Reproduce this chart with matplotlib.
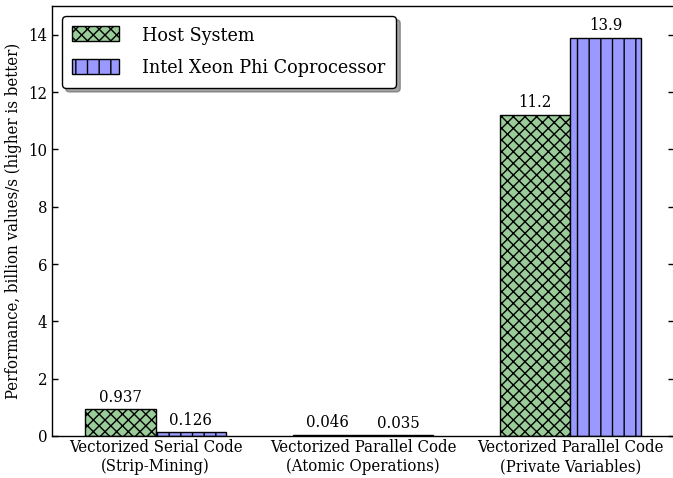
import numpy as np
import matplotlib
matplotlib.use('Agg')
import matplotlib.pyplot as plt

# render at a higher dpi so the hatch spacing matches; scale sizes back down
DPI = 140
k = 100.0 / DPI

plt.rcParams['font.family'] = 'DejaVu Serif'
plt.rcParams['font.stretch'] = 'condensed'
plt.rcParams['hatch.linewidth'] = 1.0 * k
plt.rcParams['axes.linewidth'] = 1.0 * k
plt.rcParams['patch.linewidth'] = 1.0 * k
plt.rcParams['ytick.major.width'] = 1.0 * k

categories = ['Vectorized Serial Code\n(Strip-Mining)',
              'Vectorized Parallel Code\n(Atomic Operations)',
              'Vectorized Parallel Code\n(Private Variables)']
host = [0.937, 0.046, 11.2]
phi = [0.126, 0.035, 13.9]
host_labels = ['0.937', '0.046', '11.2']
phi_labels = ['0.126', '0.035', '13.9']

fs = 12 * k

fig = plt.figure(figsize=(673 / DPI, 478 / DPI), dpi=DPI)
ax = fig.add_axes([52/673, 1-436/478, 622/673, 430/478])

ind = np.arange(len(categories))
w = 0.34
b1 = ax.bar(ind - w/2, host, w, color='#99cc99', edgecolor='black', hatch='xxxx',
            linewidth=1.0 * k, label='Host System')
b2 = ax.bar(ind + w/2, phi, w, color='#9999ff', edgecolor='black', hatch='||',
            linewidth=1.0 * k, label='Intel Xeon Phi Coprocessor')

for rect, s in zip(b1, host_labels):
    ax.text(rect.get_x() + rect.get_width()/2, rect.get_height() + 0.12, s,
            ha='center', va='bottom', fontsize=fs)
for rect, s in zip(b2, phi_labels):
    ax.text(rect.get_x() + rect.get_width()/2, rect.get_height() + 0.12, s,
            ha='center', va='bottom', fontsize=fs)

ax.set_xlim(-0.5, 2.5)
ax.set_ylim(0, 15)
ax.set_yticks(range(0, 16, 2))
ax.set_xticks(ind)
ax.set_xticklabels(categories, fontsize=fs)
ax.tick_params(axis='x', length=0, pad=2 * k)
ax.tick_params(axis='y', direction='in', right=True, labelsize=fs,
               length=4 * k, pad=3.5 * k)
ax.spines['right'].set_visible(False)
ax.set_ylabel('Performance, billion values/s (higher is better)', fontsize=fs,
              labelpad=4 * k)

leg = ax.legend(loc='upper left', fontsize=14 * k, shadow=True, fancybox=True,
                handlelength=2.4, handleheight=0.8, handletextpad=1.2,
                labelspacing=0.75, borderpad=0.55, borderaxespad=0.5,
                framealpha=1, edgecolor='black')
leg.get_frame().set_linewidth(1.0 * k)

fig.savefig('out.png', dpi=DPI)
